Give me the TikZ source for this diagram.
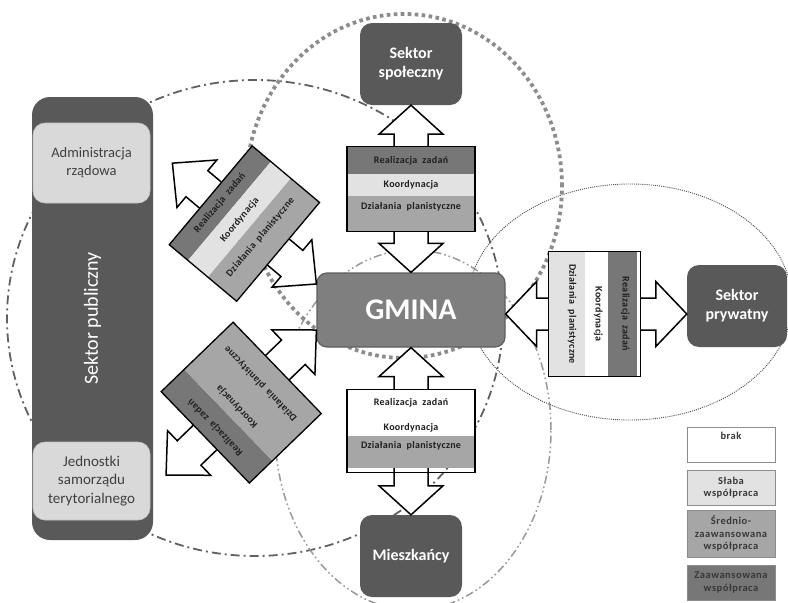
\documentclass[tikz,border=0pt]{standalone}
\usepackage{fontspec}
\setmainfont{Carlito}
\newfontfamily\keyfont[LetterSpace=5]{Carlito}
\newfontfamily\bandfont[LetterSpace=3]{Carlito}
\usetikzlibrary{calc}

\definecolor{sectorgray}{HTML}{595959}
\definecolor{gminagray}{HTML}{7F7F7F}
\definecolor{gminaedge}{HTML}{5E5E5E}
\definecolor{unitgray}{HTML}{D9D9D9}
\definecolor{unitedge}{HTML}{C4C4C4}
\definecolor{coopstrong}{HTML}{777777}
\definecolor{coopmedium}{HTML}{A6A6A6}
\definecolor{coopweak}{HTML}{E2E2E2}
\definecolor{inkgray}{HTML}{404040}

% hollow two-headed arrow between two points:
% #1, #2 tips, #3 head length, #4 head half-width, #5 shaft half-width
\newcommand\twowayarrow[5]{%
  \draw[flowarrow] (#1)
    -- ($(#1)!#3!(#2)!#4!90:(#2)$)
    -- ($(#1)!#3!(#2)!#5!90:(#2)$)
    -- ($(#2)!#3!(#1)!#5!-90:(#1)$)
    -- ($(#2)!#3!(#1)!#4!-90:(#1)$)
    -- (#2)
    -- ($(#2)!#3!(#1)!#4!90:(#1)$)
    -- ($(#2)!#3!(#1)!#5!90:(#1)$)
    -- ($(#1)!#3!(#2)!#5!-90:(#2)$)
    -- ($(#1)!#3!(#2)!#4!-90:(#2)$)
    -- cycle;}

\begin{document}
\begin{tikzpicture}[x=1pt,y=-1pt,
  zonesocial/.style={draw=black!45, line width=3.8pt, dash pattern=on 3.6pt off 3.4pt},
  zonepublic/.style={draw=black!62, line width=1.8pt, dash pattern=on 9pt off 4pt on 2pt off 4pt},
  zoneresid/.style={draw=black!40, line width=1.5pt, dash pattern=on 8pt off 3pt on 1.6pt off 3pt on 1.6pt off 3pt},
  zoneprivate/.style={draw=black!70, line width=0.9pt, dash pattern=on 1pt off 1.1pt},
  sector/.style={fill=sectorgray, rounded corners=12pt, text=white, align=center,
    font=\bfseries\fontsize{16}{19}\selectfont, inner sep=0pt,
    minimum width=102pt, minimum height=82pt},
  unit/.style={fill=unitgray, draw=unitedge, line width=0.6pt, rounded corners=12pt,
    text=inkgray, align=center, inner sep=0pt, minimum width=117pt,
    font=\fontsize{14.5}{18}\selectfont},
  flowarrow/.style={draw=black, line width=1.5pt, fill=white, line join=miter},
  boxline/.style={draw=black, line width=1.3pt},
  bandtext/.style={font=\bandfont\bfseries\fontsize{10}{12}\selectfont, text=black!88, inner sep=0pt},
  keybox/.style={draw=black!45, line width=0.8pt, minimum width=88pt, inner sep=0pt},
  keytext/.style={font=\keyfont\bfseries\fontsize{10.5}{12.5}\selectfont, text=black!78,
    align=center, inner sep=0pt}
]
\useasboundingbox (0,0) rectangle (788,603);
\fill[white] (0,0) rectangle (788,603);

% cooperation zones
\draw[zonepublic] (255,318) ellipse [x radius=248pt, y radius=238pt];
\draw[zoneresid] (413,430) ellipse [x radius=138pt, y radius=180pt];
\draw[zoneprivate] (630,302) ellipse [x radius=162pt, y radius=118pt];
\draw[zonesocial] (404,186) ellipse [x radius=158pt, y radius=172pt];

% public sector column
\node[fill=sectorgray, rounded corners=18pt, rotate=90, minimum width=443pt,
  minimum height=121pt, inner sep=0pt, text=white,
  font=\fontsize{20}{24}\selectfont] (pub) at (92.5,318.5) {Sektor publiczny};
\node[unit, minimum height=80pt] (adm) at (91.5,163) {Administracja\\rządowa};
\node[unit, minimum height=78pt, font=\fontsize{15}{18.5}\selectfont] (jst) at (91.5,481)
  {Jednostki\\samorządu\\terytorialnego};

% partners
\node[sector] (spol) at (411,64) {Sektor\\społeczny};
\node[sector] (miesz) at (411,556) {Mieszkańcy};
\node[sector, minimum width=100pt] (pryw) at (737,306) {Sektor\\prywatny};
\node[fill=gminagray, draw=gminaedge, line width=1.2pt, rounded corners=10pt,
  minimum width=188pt, minimum height=74pt, inner sep=0pt, text=white,
  font=\bfseries\fontsize{30}{36}\selectfont] (gmina) at (411,310) {GMINA};

% arrow end points
\coordinate (ulB) at ([yshift=26pt]gmina.west);
\coordinate (ulA) at ([shift={(140:188pt)}]ulB);
\coordinate (llB) at ([yshift=-20pt]gmina.west);
\coordinate (llA) at ([shift={(224:209pt)}]llB);
\coordinate (rtA) at ([yshift=-8pt]pryw.west);
\coordinate (rtB) at (gmina.east |- rtA);

\twowayarrow{spol.south}{gmina.north}{29pt}{32pt}{17pt}
\twowayarrow{miesz.north}{gmina.south}{29pt}{32pt}{17pt}
\twowayarrow{rtA}{rtB}{31pt}{32.5pt}{16pt}
\twowayarrow{ulA}{ulB}{32pt}{31pt}{17pt}
\twowayarrow{llA}{llB}{32pt}{31pt}{17pt}

\coordinate (topC) at ($(spol.south)!0.5!(gmina.north)$);
\coordinate (botC) at ($(miesz.north)!0.5!(gmina.south)$);
\coordinate (rtC) at ($(rtA)!0.5!(rtB)+(-2,0)$);
\coordinate (ulC) at ($(ulA)!0.5!(ulB)$);
\coordinate (llC) at ($(llA)!0.5!(llB)$);

% social sector link
\begin{scope}[shift={(topC)}]
  \fill[coopstrong] (-64,-42.5) rectangle (64,-14.5);
  \fill[coopweak] (-64,-14.5) rectangle (64,7.5);
  \fill[coopmedium] (-64,7.5) rectangle (64,42.5);
  \draw[boxline] (-64,-42.5) rectangle (64,42.5);
  \node[bandtext] (t1) at (0,-28) {Realizacja\ \ zadań};
  \node[bandtext] (t2) at (0,-3.5) {Koordynacja};
  \node[bandtext] (t3) at (0,17.5) {Działania\ \ planistyczne};
\end{scope}

% residents link
\begin{scope}[shift={(botC)}]
  \fill[white] (-64,-41.5) rectangle (64,4.5);
  \fill[coopmedium] (-64,4.5) rectangle (64,36.5);
  \draw[boxline] (-64,-41.5) rectangle (64,41.5);
  \node[bandtext] (b1) at (0,-28.5) {Realizacja\ \ zadań};
  \node[bandtext] (b2) at (0,-3.5) {Koordynacja};
  \node[bandtext] (b3) at (0,14.5) {Działania\ \ planistyczne};
\end{scope}

% private sector link
\begin{scope}[shift={(rtC)}, rotate=-90, transform shape]
  \fill[white] (-62.5,-46) rectangle (62.5,-43);
  \fill[coopstrong] (-62.5,-43) rectangle (62.5,-14);
  \fill[white] (-62.5,-14) rectangle (62.5,9);
  \fill[coopweak] (-62.5,9) rectangle (62.5,46);
  \draw[boxline] (-62.5,-46) rectangle (62.5,46);
  \node[bandtext] (r1) at (0,-31) {Realizacja\ \ zadań};
  \node[bandtext] (r2) at (0,-4) {Koordynacja};
  \node[bandtext] (r3) at (0,22) {Działania\ \ planistyczne};
\end{scope}

% government administration link
\begin{scope}[shift={(ulC)}, rotate=50, transform shape]
  \fill[coopstrong] (-64.5,-44) rectangle (64.5,-19.5);
  \fill[coopweak] (-64.5,-19.5) rectangle (64.5,6.5);
  \fill[coopmedium] (-64.5,6.5) rectangle (64.5,44);
  \draw[boxline] (-64.5,-44) rectangle (64.5,44);
  \node[bandtext] (u1) at (0,-32) {Realizacja\ \ zadań};
  \node[bandtext] (u2) at (0,-6) {Koordynacja};
  \node[bandtext] (u3) at (0,21) {Działania\ \ planistyczne};
\end{scope}

% local government link
\begin{scope}[shift={(llC)}, rotate=134, transform shape]
  \fill[coopstrong] (-63.5,-50) rectangle (63.5,-18);
  \fill[coopmedium] (-63.5,-18) rectangle (63.5,50);
  \draw[boxline] (-63.5,-50) rectangle (63.5,50);
  \node[bandtext] (l1) at (0,-36) {Realizacja\ \ zadań};
  \node[bandtext] (l2) at (0,-6) {Koordynacja};
  \node[bandtext] (l3) at (0,27) {Działania\ \ planistyczne};
\end{scope}

% key
\node[keybox, fill=white, minimum height=35pt] (k1) at (731,444.5) {};
\node[keytext, anchor=north] (k1t) at ([yshift=-5pt]k1.north) {brak};
\node[keybox, fill=coopweak, minimum height=35pt] (k2) at (731,487.5) {};
\node[keytext] (k2t) at (k2) {Słaba\\współpraca};
\node[keybox, fill=coopmedium, minimum height=47pt] (k3) at (731,533.5) {};
\node[keytext] (k3t) at (k3) {Średnio-\\zaawansowana\\współpraca};
\node[keybox, fill=coopstrong, minimum height=35pt] (k4) at (731,582.5) {};
\node[keytext] (k4t) at (k4) {Zaawansowana\\współpraca};
\end{tikzpicture}
\end{document}
